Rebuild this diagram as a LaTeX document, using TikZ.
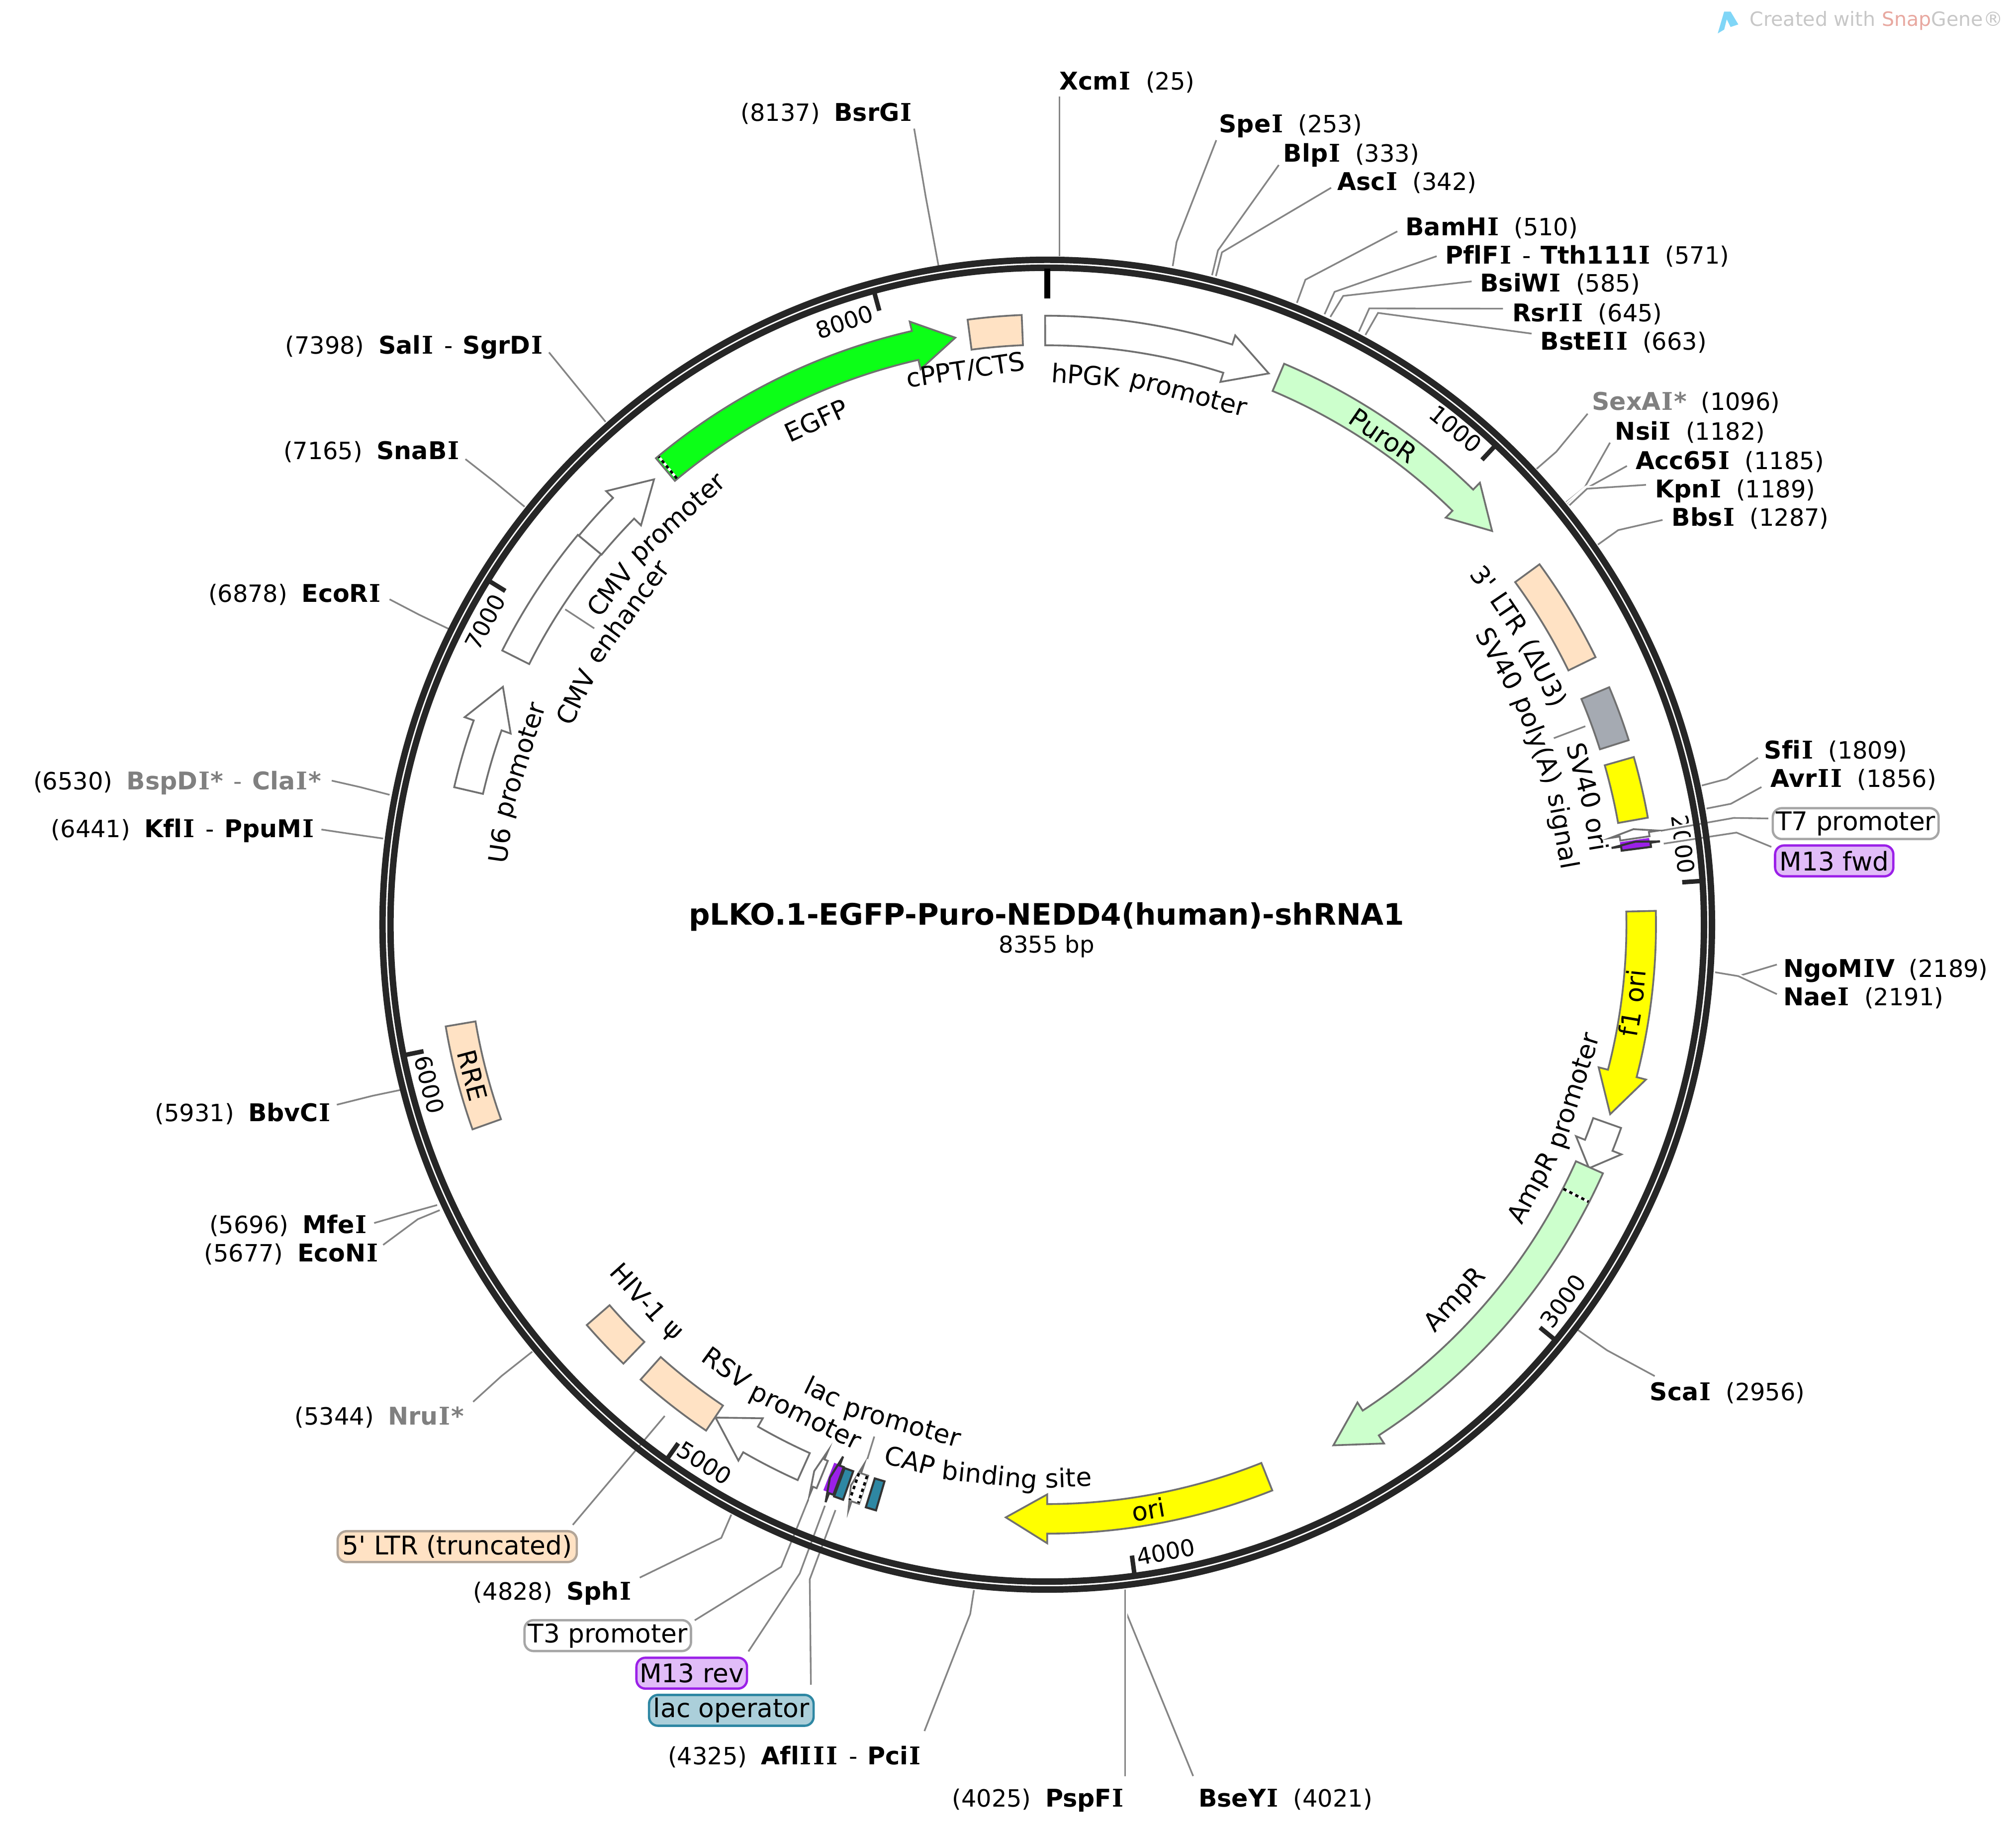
\documentclass[tikz,border=0pt]{standalone}
\usepackage{fontspec}
\setmainfont{DejaVu Sans}[Ligatures={TeXOff,CommonOff}]
\newfontfamily\vif{DejaVu Serif}[Ligatures={TeXOff,CommonOff}]
\definecolor{ringc}{HTML}{262626}
\definecolor{edgec}{HTML}{707070}
\definecolor{leadc}{HTML}{858585}
\definecolor{peach}{HTML}{FFE2C4}
\definecolor{pale}{HTML}{CCFFCC}
\definecolor{egfpc}{HTML}{0CFF17}
\definecolor{yell}{RGB}{255,255,0}
\definecolor{greyf}{HTML}{A5AAB2}
\definecolor{purp}{HTML}{9B20E8}
\definecolor{teal}{HTML}{2E87A3}
\definecolor{dimt}{HTML}{808080}
\definecolor{snapc}{HTML}{E8A8A0}
\newcommand\ffont{\fontsize{20}{24}\selectfont}
\newcommand\tfont{\fontsize{18}{22}\selectfont}
\newcommand\sfont{\fontsize{18.5}{22}\selectfont}
\newcommand\bfnt{\fontsize{19}{22}\selectfont\bfseries}
\newcommand\gap{\hspace{11pt}}
\newcommand\VI{\kern.7pt{\vif I}\kern.7pt}
\newcommand\dsh{\hspace{2pt} - \hspace{2pt}}
\tikzset{
  sitelabel/.style={inner sep=0pt,font=\sfont},
  lead/.style={draw=leadc,line width=1.3pt,preaction={draw=white,line width=4pt}},
  feat/.style={draw=edgec,line width=1.4pt,fill=#1},
  darkfeat/.style={draw=black!80,line width=1.6pt,fill=#1},
  tick/.style={draw=ringc,line width=3.5pt},
  pill/.style={rounded corners=7pt,line width=1.8pt,inner sep=0pt,minimum height=24pt,font=\ffont},
}
% coordinates in the picture: x right, y down; inside the ring scope: polar, angle clockwise from top
\newcommand\farrow[4]{\draw[#1] ({90-(#2)}:473.5) arc[start angle={90-(#2)},end angle={90-(#3)},radius=473.5] -- ({90-(#3)}:481) -- ({90-(#4)}:462) -- ({90-(#3)}:443) -- ({90-(#3)}:450.5) arc[start angle={90-(#3)},end angle={90-(#2)},radius=450.5] -- cycle;}
\newcommand\fblock[3]{\draw[#1] ({90-(#2)}:474.5) arc[start angle={90-(#2)},end angle={90-(#3)},radius=474.5] -- ({90-(#3)}:451) arc[start angle={90-(#3)},end angle={90-(#2)},radius=451] -- cycle;}
\newcommand\fdots[1]{\draw[white,line width=2pt] ({90-(#1)}:451) -- ({90-(#1)}:473);\draw[black,line width=2pt,dash pattern=on 2.6pt off 2.6pt] ({90-(#1)}:451) -- ({90-(#1)}:473);}
% words set along the circle: [font]{dir: 1 clockwise, top outward; -1 anticlockwise, top inward}{centre angle}{baseline radius}{words}
\newdimen\wdw \newdimen\wtot \newdimen\wpos \newcount\wnum
\newcommand\arclab[5][\ffont]{%
  \global\wtot=-7pt
  \foreach \w in {#5}{\setbox0=\hbox{\pgfinterruptpicture#1\w\endpgfinterruptpicture}\global\advance\wtot by \wd0 \global\advance\wtot by 7pt}%
  \global\wpos=0pt
  \foreach \w in {#5}{\setbox0=\hbox{\pgfinterruptpicture#1\w\endpgfinterruptpicture}\wdw=\wd0
    \pgfmathsetmacro\wang{#3+(#2)*(\the\wpos+0.5*\the\wdw-0.5*\the\wtot)/(#4)*57.29578}%
    \pgfmathsetmacro\wrot{(#2)>0 ? -\wang : 180-\wang}%
    \global\advance\wnum by 1
    \node[inner sep=0pt,font=#1,rotate=\wrot,anchor=base] (w\the\wnum) at ({90-\wang}:#4) {\w};
    \global\advance\wpos by \wdw \global\advance\wpos by 7pt}}
\newcommand\tk[1]{\draw[tick] ({90-(#1)}:509) -- ({90-(#1)}:495);}
% site: id, x, baseline y, text, end offset, ring point, knee point
\newcommand\siter[7]{\node[sitelabel,anchor=base west] (#1) at (#2,#3) {#4};
  \coordinate (#1-r) at (#6);\coordinate (#1-k) at (#7);
  \draw[lead] (#1-r) -- (#1-k) -- ([shift={(#5)}]#1.base west);}
\newcommand\sitel[7]{\node[sitelabel,anchor=base east] (#1) at (#2,#3) {#4};
  \coordinate (#1-r) at (#6);\coordinate (#1-k) at (#7);
  \draw[lead] (#1-r) -- (#1-k) -- ([shift={(#5)}]#1.base east);}
\begin{document}
\begin{tikzpicture}[x=1pt,y=-1pt]
\path[use as bounding box] (0,0) rectangle (1568,1421.3);
\fill[white] (0,0) rectangle (1568,1421.3);
% tick label that the leaders cut through
\begin{scope}[shift={(814.5,719)},y=1pt]
\arclab[\tfont]{1}{82.8}{492}{2000}
\end{scope}
% pills
\node[pill,draw=black!35,fill=white,minimum width=129pt] (t7) at (1443.3,640.4) {T7 promoter};
\node[pill,draw=purp,fill=purp!30,minimum width=92pt] (mf) at (1426.6,669.4) {M13 fwd};
\node[pill,draw=peach!60!black!75,fill=peach,minimum width=186pt] (ltr) at (355.6,1202.6) {5' LTR (truncated)};
\node[pill,draw=black!35,fill=white,minimum width=129.5pt] (t3) at (472.7,1271.8) {T3 promoter};
\node[pill,draw=purp,fill=purp!30,minimum width=86pt] (mr) at (538,1301) {M13 rev};
\node[pill,draw=teal,fill=teal!40,minimum width=128pt] (lo) at (568.8,1329.9) {lac operator};
% restriction sites
\siter{xcm}{824}{70}{{\bfnt Xcm\VI}\gap(25)}{0,5}{824,199}{824,130}
\siter{spe}{948}{103}{{\bfnt Spe\VI}\gap(253)}{-2,6}{912.1,206.9}{915.1,188.2}
\siter{blp}{998}{126}{{\bfnt Blp\VI}\gap(333)}{-3.4,2.3}{942.7,214}{947.3,194.7}
\siter{asc}{1040}{148}{{\bfnt Asc\VI}\gap(342)}{-4.7,-2}{945.7,214.7}{950.4,196.2}
\siter{bam}{1093}{183}{{\bfnt BamH\VI}\gap(510)}{-6.2,-3.1}{1008.7,235.5}{1015.3,217.5}
\siter{pfl}{1124}{205}{{\bfnt PflF\VI}\dsh{\bfnt Tth111\VI}\gap(571)}{-6.6,-5.8}{1030.2,244.3}{1038,226.9}
\siter{bsi}{1151}{227}{{\bfnt BsiW\VI}\gap(585)}{-6.4,-8.2}{1034.7,246.4}{1044.7,230.1}
\siter{rsr}{1176}{250}{{\bfnt Rsr\VI\VI}\gap(645)}{-7,-10}{1056.9,257.8}{1065,239.8}
\siter{bst}{1198}{272}{{\bfnt BstE\VI\VI}\gap(663)}{-6.8,-12.6}{1062,260.4}{1071.8,243.3}
\siter{sex}{1238}{319}{{\bfnt\color{dimt}SexA\VI*}\gap(1096)}{-3.2,2.7}{1195.1,364.6}{1210.4,351.3}
\siter{nsi}{1256}{342}{{\bfnt Nsi\VI}\gap(1182)}{-3.8,2.2}{1218.1,390.6}{1232.5,379}
\siter{acc}{1272}{365}{{\bfnt Acc65\VI}\gap(1185)}{-6.6,-2.7}{1219.4,391.9}{1233.8,379.7}
\siter{kpn}{1287}{387}{{\bfnt Kpn\VI}\gap(1189)}{-6.8,-10}{1220.7,392.9}{1234.4,380}
\siter{bbs}{1300}{409}{{\bfnt Bbs\VI}\gap(1287)}{-6.9,-4.7}{1242.8,423.5}{1258.6,412.2}
\siter{sfi}{1372}{590}{{\bfnt Sfi\VI}\gap(1809)}{-4.7,-.8}{1323.6,610.8}{1342.9,605.7}
\siter{avr}{1377}{612}{{\bfnt Avr\VI\VI}\gap(1856)}{-7,0}{1327.3,628.7}{1346.2,625}
\siter{ngo}{1387}{760}{{\bfnt NgoM\VI{}V}\gap(2189)}{-5,-10}{1334,756}{1352,759}
\siter{nae}{1387}{782}{{\bfnt Nae\VI}\gap(2191)}{-5,-9}{1334,756}{1352,759}
\siter{sca}{1283}{1089}{{\bfnt Sca\VI}\gap(2956)}{4,-19}{1227,1034}{1250,1050}
\siter{bse}{932}{1405}{{\bfnt BseY\VI}\gap(4021)}{-4,-24}{875,1236}{876,1254}
\sitel{psp}{875}{1405}{(4025)\gap{\bfnt PspF\VI}}{0,-24}{875,1236}{875,1300}
\sitel{afl}{717}{1372}{(4325)\gap{\bfnt Afl\VI\VI\VI}\dsh{\bfnt Pci\VI}}{2,-26}{757.5,1236.4}{754.6,1255}
\sitel{sph}{492}{1244}{(4828)\gap{\bfnt Sph\VI}}{5.6,-17.3}{568.8,1177.7}{561,1195.8}
\sitel{nru}{361}{1108}{(5344)\gap{\bfnt\color{dimt}Nru\VI*}}{7,-18}{414,1051}{390,1070}
\sitel{eco}{295}{981}{(5677)\gap{\bfnt EcoN\VI}}{3,-13}{342,941}{325,948}
\sitel{mfe}{286}{959}{(5696)\gap{\bfnt Mfe\VI}}{5,-8}{340,937}{322,942}
\sitel{bbv}{258}{872}{(5931)\gap{\bfnt BbvC\VI}}{4,-13}{314,847}{290,852}
\sitel{kfl}{245}{651}{(6441)\gap{\bfnt Kfl\VI}\dsh{\bfnt PpuM\VI}}{5,-6}{298,652}{270,648}
\sitel{bsp}{250}{614}{(6530)\gap{\bfnt\color{dimt}BspD\VI*}{\color{dimt}\dsh}{\bfnt\color{dimt}Cla\VI*}}{8,-7}{303,618}{280,612}
\sitel{ecr}{297}{468}{(6878)\gap{\bfnt EcoR\VI}}{6,-2}{349,489}{326,478}
\sitel{sna}{358}{357}{(7165)\gap{\bfnt SnaB\VI}}{4,0}{408,394}{385,375}
\sitel{sal}{423}{275}{(7398)\gap{\bfnt Sal\VI}\dsh{\bfnt SgrD\VI}}{4,-1}{471,328}{449,301}
\sitel{bsr}{710}{94}{(8137)\gap{\bfnt BsrG\VI}}{1,6}{730,207}{720,153}
% feature-to-pill leaders
\coordinate (ltr-a) at (517,1101);
\coordinate (t7-a) at (1291.8,646);\coordinate (t7-k) at (1348.4,636);
\coordinate (mf-a) at (1294,656);\coordinate (mf-k) at (1350.6,647.4);
\coordinate (t3-a) at (628.7,1166);\coordinate (t3-k) at (607.6,1218.3);
\coordinate (mr-a) at (641.6,1170.8);\coordinate (mr-k) at (622,1223.5);
\coordinate (lo-a) at (649.8,1174.2);\coordinate (lo-k) at (629.8,1228);
\draw[lead] (ltr-a) -- ([shift={(-4,-4)}]ltr.north east);
\draw[lead] (t7-a) -- (t7-k) -- ([shift={(-2.6,-4)}]t7.west);
\draw[lead] (mf-a) -- (mf-k) -- ([shift={(-2,2)}]mf.north west);
\draw[lead] (t3-a) -- (t3-k) -- ([shift={(2,1)}]t3.north east);
\draw[lead] (mr-a) -- (mr-k) -- ([shift={(.2,-4)}]mr.north east);
\draw[lead] (lo-a) -- (lo-k) -- ([shift={(-3,-7)}]lo.north east);
% inner leaders
\coordinate (in1a) at (1233,564.7);\coordinate (in1b) at (1208.5,574);
\coordinate (in2a) at (439.6,473.8);\coordinate (in2b) at (462.2,488.6);
\coordinate (in3a) at (680,1117);\coordinate (in3b) at (674.6,1134.5);
\draw[leadc,line width=1.3pt] (in1a) -- (in1b);
\draw[leadc,line width=1.3pt] (in2a) -- (in2b);
\draw[leadc,line width=1.3pt] (in3a) -- (in3b);
\begin{scope}[shift={(814.5,719)},y=1pt]
% ring
\draw[ringc,line width=5pt] (0,0) circle[radius=517];
\draw[ringc,line width=5pt] (0,0) circle[radius=510.8];
% ticks
\draw[black,line width=4.5pt] (90:510) -- (90:487);
\tk{43.09}\tk{86.18}\tk{129.26}\tk{172.35}\tk{215.44}\tk{258.53}\tk{301.62}\tk{344.7}
\arclab[\tfont]{1}{39.5}{493}{1000}
\arclab[\tfont]{-1}{126.1}{503}{3000}
\arclab[\tfont]{-1}{169.3}{503}{4000}
\arclab[\tfont]{-1}{212.5}{503}{5000}
\arclab[\tfont]{-1}{255.5}{503}{6000}
\arclab[\tfont]{1}{-61.7}{490}{7000}
\arclab[\tfont]{1}{-18.6}{488}{8000}
% features
\farrow{feat=white}{-.2}{17.7}{21.9}
\farrow{feat=pale}{22.9}{44.4}{48.5}
\fblock{feat=peach}{53.8}{64}
\fblock{feat=greyf}{67.1}{72.4}
\fblock{feat=yell}{74.05}{79.9}
\farrow{feat=white}{81.65}{81.25}{80.75}
\fill[purp] ({90-81.8}:450) arc[start angle={90-81.8},end angle={90-82.6},radius=450] -- ({90-82.6}:473) arc[start angle={90-82.6},end angle={90-81.8},radius=473] -- cycle;
\farrow{darkfeat=purp}{82.66}{82.26}{81.97}
\farrow{feat=yell}{88.7}{104.5}{108.6}
\farrow{feat=white}{109.5}{111.8}{114.2}
\farrow{feat=pale}{114.1}{147}{151.2}
\fdots{117.1}
\farrow{feat=yell}{158.3}{180}{184}
\fblock{darkfeat=teal}{196.3}{197.3}
\farrow{feat=white}{198}{198.75}{199.3}
\fdots{198.1}\fdots{198.95}
\fblock{darkfeat=teal}{199.55}{200.45}
\fill[purp] ({90-200.6}:450) arc[start angle={90-200.6},end angle={90-201.6},radius=450] -- ({90-201.6}:473) arc[start angle={90-201.6},end angle={90-200.6},radius=473] -- cycle;
\farrow{darkfeat=purp}{200.57}{201}{201.46}
\farrow{feat=white}{202.26}{202.62}{203.1}
\farrow{feat=white}{204.2}{209.96}{213.94}
\fblock{feat=peach}{214}{221.8}
\fblock{feat=peach}{224}{229}
\fblock{feat=peach}{250.4}{260.4}
\farrow{feat=white}{-76.95}{-70.4}{-66.4}
\fblock{feat=white}{-63.3}{-50.3}
\farrow{feat=white}{-50.3}{-45.5}{-41.45}
\farrow{feat=egfpc}{-40}{-12.85}{-8.9}
\fdots{-39.7}
\fblock{feat=peach}{-7.5}{-2.4}
% feature labels
\arclab{1}{10.8}{421}{hPGK,promoter}
\arclab{1}{34.5}{454}{PuroR}
\arclab{1}{-24.6}{424}{EGFP}
\arclab{1}{-8.4}{429}{{cPPT/CTS}}
\arclab{1}{-45.8}{421}{CMV,promoter}
\arclab{1}{-57}{400}{CMV,enhancer}
\arclab{1}{-75}{423}{U6,promoter}
\arclab{1}{58.6}{426}{3',LTR,(ΔU3)}
\arclab{1}{69.9}{401}{SV40,poly(A),signal}
\arclab{1}{76.7}{426}{SV40,ori}
\arclab{-1}{97.6}{467}{f1,ori}
\arclab{-1}{111.9}{436}{AmpR,promoter}
\arclab{-1}{132.6}{437}{AmpR}
\arclab{-1}{170.2}{469}{ori}
\arclab{-1}{186.2}{437.5}{CAP,binding,site}
\arclab{-1}{198.7}{410}{lac,promoter}
\arclab{-1}{209.3}{432.6}{RSV,promoter}
\arclab{-1}{226.7}{435}{HIV-1,ψ}
\arclab{-1}{255.3}{469.5}{RRE}
\end{scope}
% centre
\node[inner sep=0pt,font=\fontsize{23}{26}\selectfont\bfseries] (title) at (814,713) {pLKO.1-EGFP-Puro-NEDD4(human)-shRNA1};
\node[inner sep=0pt,font=\tfont] (size) at (814,736) {8355 bp};
% watermark
\node[inner sep=0pt,anchor=east,text=black!22,font=\fontsize{15.3}{18}\selectfont] (mark) at (1558,16) {Created with \textcolor{snapc}{Snap}Gene®};
\fill[cyan!50] (1336,26) -- (1341,9) -- (1346,9) -- (1352,19) -- (1346,21) -- (1343,15) -- (1341,23) -- cycle;
\end{tikzpicture}
\end{document}
